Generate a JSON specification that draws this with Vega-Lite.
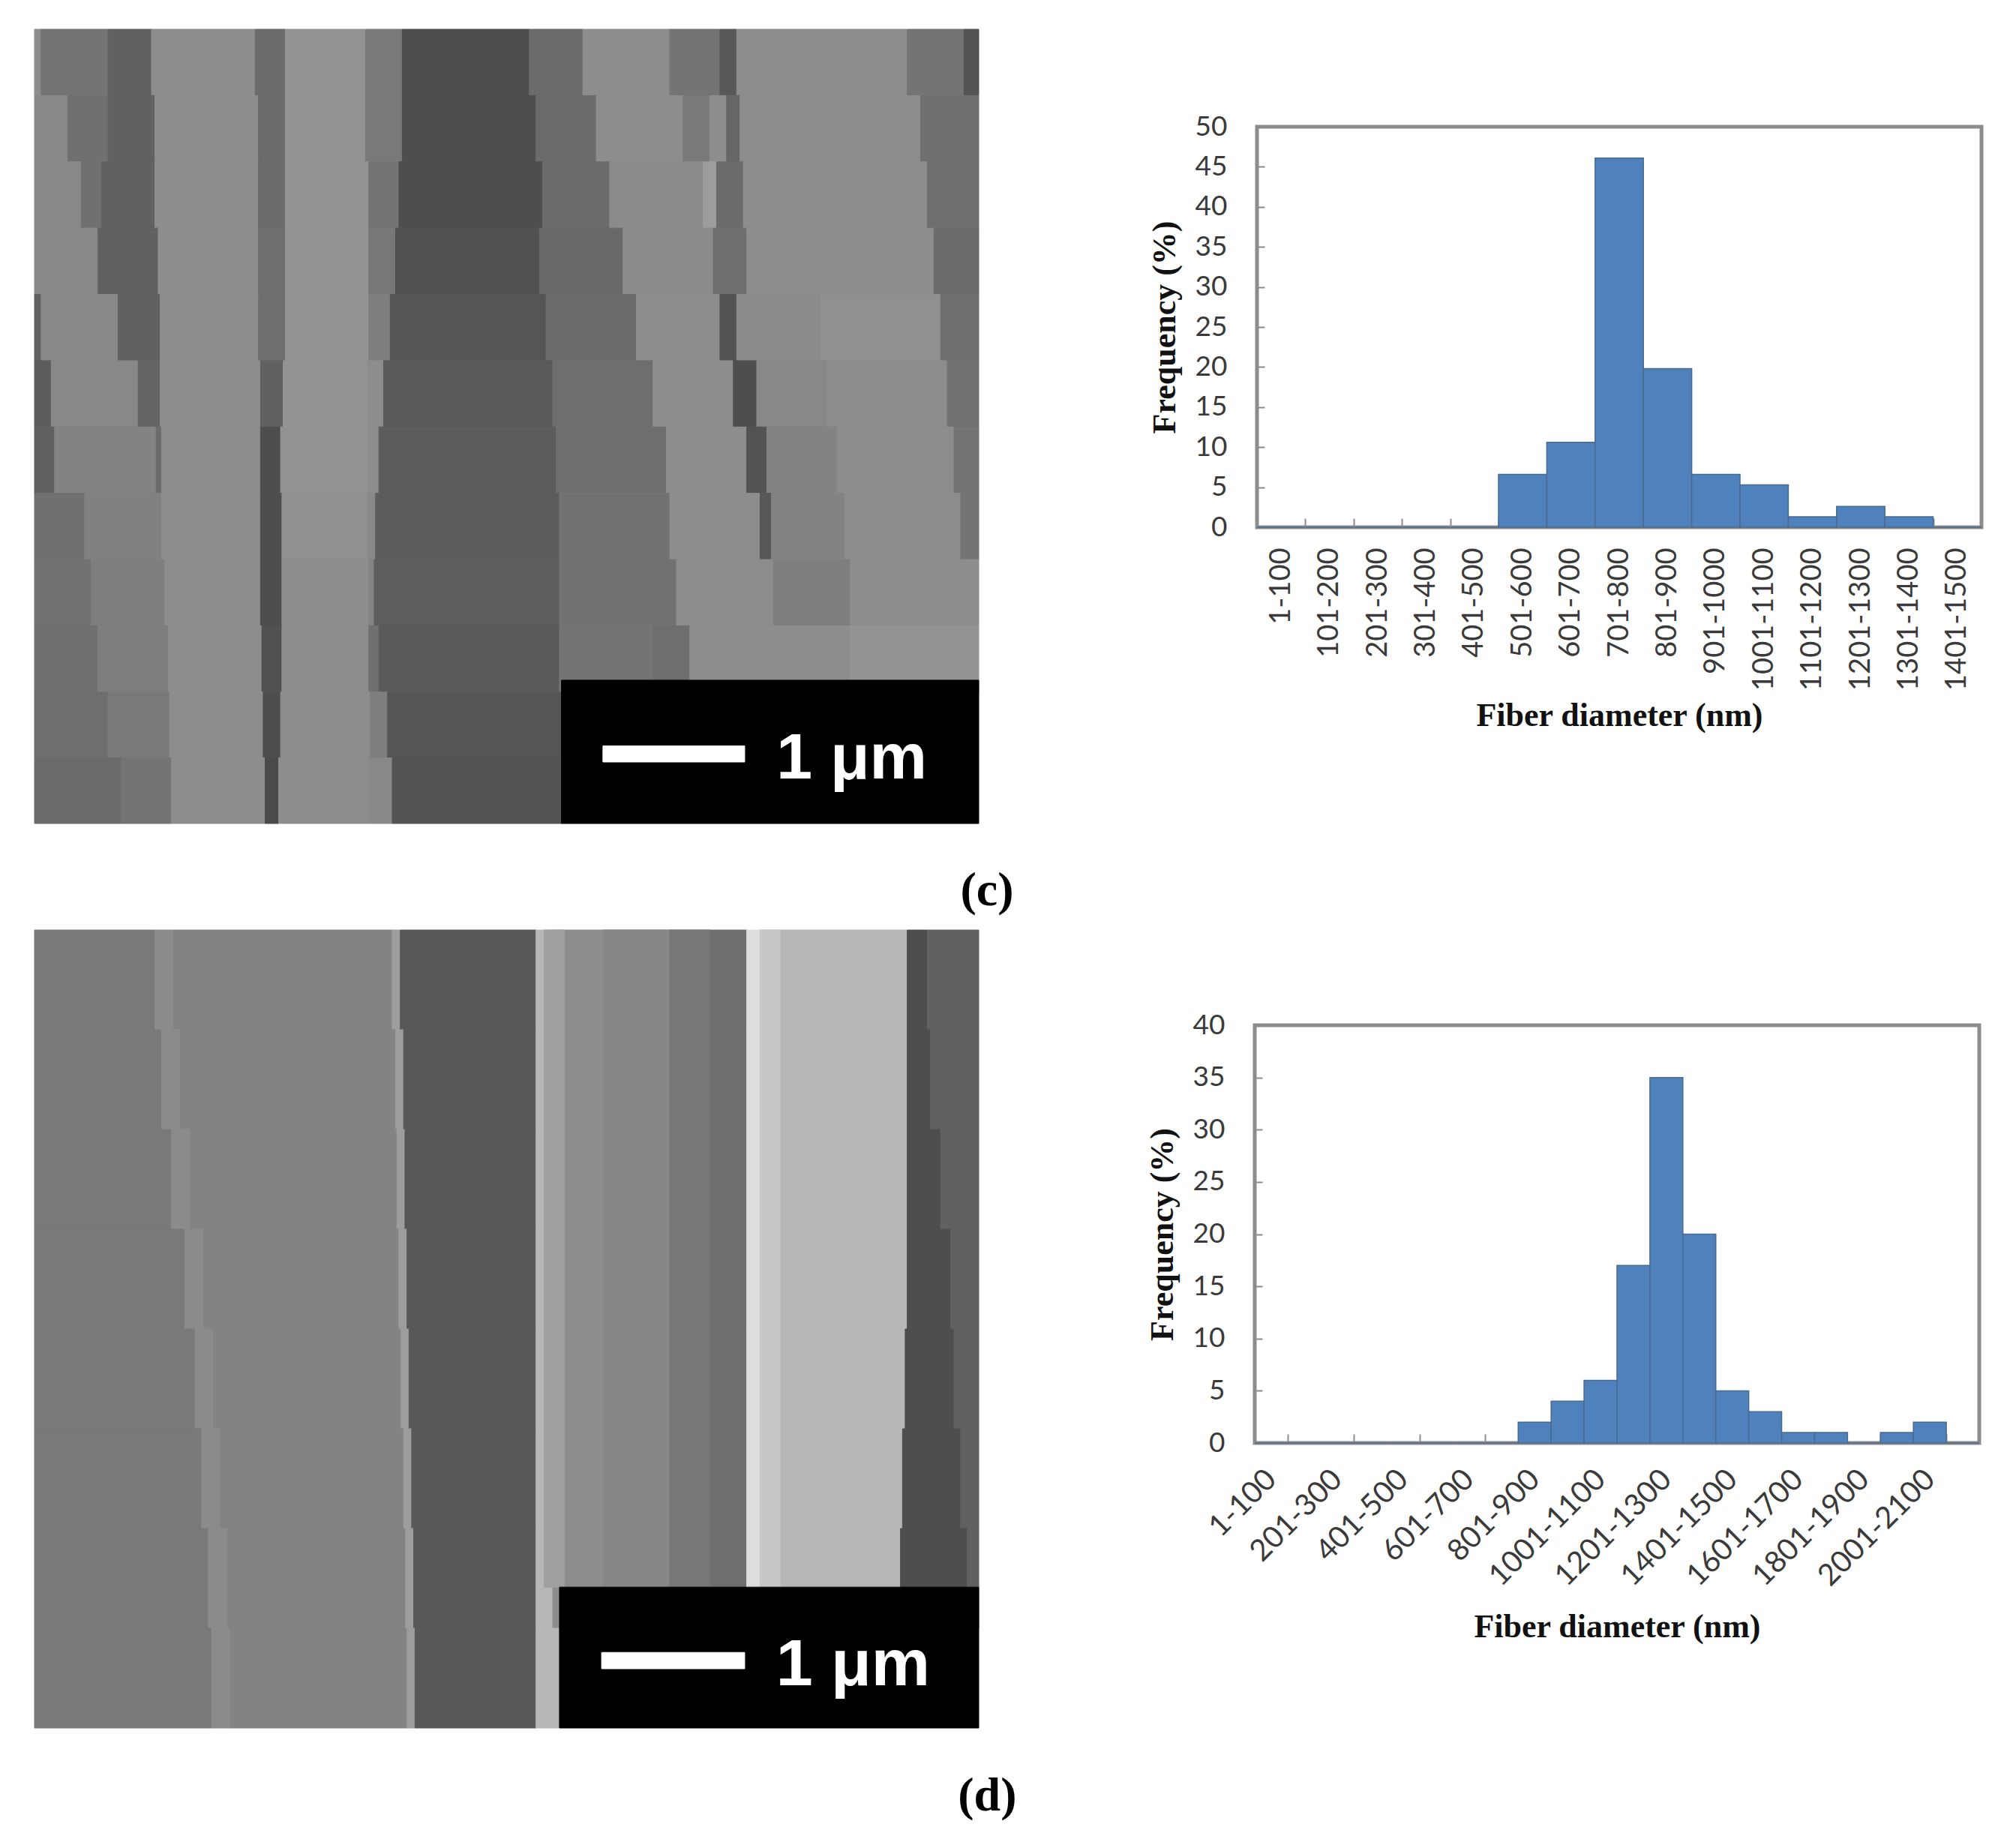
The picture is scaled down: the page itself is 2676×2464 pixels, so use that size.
{
  "$schema": "https://vega.github.io/schema/vega-lite/v6.json",
  "background": "white",
  "padding": {"left": 45, "top": 38, "right": 0, "bottom": 0},
  "spacing": 19,
  "vconcat": [
    {
      "spacing": 176,
      "hconcat": [
        {
          "width": 1259,
          "height": 1059,
          "title": {"text": "(c)", "orient": "bottom", "anchor": "end", "font": "Liberation Serif", "fontSize": 64, "fontWeight": "bold", "color": "#000", "offset": 57, "dx": 46},
          "view": {"stroke": null},
          "layer": [
            {
              "data": {"values": [
                {"x0":50,"x1":60,"y0":48,"y1":159,"grey":150},{"x0":60,"x1":160,"y0":48,"y1":159,"grey":125},{"x0":160,"x1":225,"y0":48,"y1":159,"grey":105},{"x0":225,"x1":380,"y0":48,"y1":159,"grey":150},{"x0":380,"x1":425,"y0":48,"y1":159,"grey":115},{"x0":425,"x1":545,"y0":48,"y1":159,"grey":155},{"x0":545,"x1":600,"y0":48,"y1":159,"grey":130},{"x0":600,"x1":790,"y0":48,"y1":159,"grey":85},{"x0":790,"x1":870,"y0":48,"y1":159,"grey":115},{"x0":870,"x1":1000,"y0":48,"y1":159,"grey":150},{"x0":1000,"x1":1075,"y0":48,"y1":159,"grey":125},{"x0":1075,"x1":1100,"y0":48,"y1":159,"grey":95},{"x0":1100,"x1":1355,"y0":48,"y1":159,"grey":150},{"x0":1355,"x1":1440,"y0":48,"y1":159,"grey":125},{"x0":1440,"x1":1462,"y0":48,"y1":159,"grey":90},
                {"x0":50,"x1":100,"y0":159,"y1":270,"grey":145},{"x0":100,"x1":160,"y0":159,"y1":270,"grey":120},{"x0":160,"x1":230,"y0":159,"y1":270,"grey":105},{"x0":230,"x1":385,"y0":159,"y1":270,"grey":150},{"x0":385,"x1":425,"y0":159,"y1":270,"grey":115},{"x0":425,"x1":545,"y0":159,"y1":270,"grey":155},{"x0":545,"x1":600,"y0":159,"y1":270,"grey":130},{"x0":600,"x1":800,"y0":159,"y1":270,"grey":85},{"x0":800,"x1":890,"y0":159,"y1":270,"grey":115},{"x0":890,"x1":1020,"y0":159,"y1":270,"grey":150},{"x0":1020,"x1":1060,"y0":159,"y1":270,"grey":130},{"x0":1060,"x1":1085,"y0":159,"y1":270,"grey":150},{"x0":1085,"x1":1105,"y0":159,"y1":270,"grey":110},{"x0":1105,"x1":1375,"y0":159,"y1":270,"grey":150},{"x0":1375,"x1":1462,"y0":159,"y1":270,"grey":120},
                {"x0":50,"x1":120,"y0":270,"y1":381,"grey":145},{"x0":120,"x1":150,"y0":270,"y1":381,"grey":120},{"x0":150,"x1":230,"y0":270,"y1":381,"grey":105},{"x0":230,"x1":385,"y0":270,"y1":381,"grey":150},{"x0":385,"x1":425,"y0":270,"y1":381,"grey":115},{"x0":425,"x1":550,"y0":270,"y1":381,"grey":155},{"x0":550,"x1":595,"y0":270,"y1":381,"grey":125},{"x0":595,"x1":810,"y0":270,"y1":381,"grey":85},{"x0":810,"x1":910,"y0":270,"y1":381,"grey":115},{"x0":910,"x1":1050,"y0":270,"y1":381,"grey":148},{"x0":1050,"x1":1070,"y0":270,"y1":381,"grey":165},{"x0":1070,"x1":1110,"y0":270,"y1":381,"grey":115},{"x0":1110,"x1":1385,"y0":270,"y1":381,"grey":150},{"x0":1385,"x1":1462,"y0":270,"y1":381,"grey":118},
                {"x0":50,"x1":145,"y0":381,"y1":492,"grey":145},{"x0":145,"x1":235,"y0":381,"y1":492,"grey":105},{"x0":235,"x1":385,"y0":381,"y1":492,"grey":150},{"x0":385,"x1":425,"y0":381,"y1":492,"grey":118},{"x0":425,"x1":550,"y0":381,"y1":492,"grey":155},{"x0":550,"x1":590,"y0":381,"y1":492,"grey":128},{"x0":590,"x1":805,"y0":381,"y1":492,"grey":88},{"x0":805,"x1":930,"y0":381,"y1":492,"grey":112},{"x0":930,"x1":1065,"y0":381,"y1":492,"grey":148},{"x0":1065,"x1":1115,"y0":381,"y1":492,"grey":118},{"x0":1115,"x1":1395,"y0":381,"y1":492,"grey":150},{"x0":1395,"x1":1462,"y0":381,"y1":492,"grey":115},
                {"x0":50,"x1":60,"y0":492,"y1":603,"grey":105},{"x0":60,"x1":175,"y0":492,"y1":603,"grey":145},{"x0":175,"x1":238,"y0":492,"y1":603,"grey":105},{"x0":238,"x1":385,"y0":492,"y1":603,"grey":150},{"x0":385,"x1":425,"y0":492,"y1":603,"grey":118},{"x0":425,"x1":550,"y0":492,"y1":603,"grey":155},{"x0":550,"x1":582,"y0":492,"y1":603,"grey":135},{"x0":582,"x1":815,"y0":492,"y1":603,"grey":92},{"x0":815,"x1":950,"y0":492,"y1":603,"grey":115},{"x0":950,"x1":1075,"y0":492,"y1":603,"grey":150},{"x0":1075,"x1":1100,"y0":492,"y1":603,"grey":90},{"x0":1100,"x1":1225,"y0":492,"y1":603,"grey":148},{"x0":1225,"x1":1405,"y0":492,"y1":603,"grey":152},{"x0":1405,"x1":1462,"y0":492,"y1":603,"grey":118},
                {"x0":50,"x1":75,"y0":603,"y1":714,"grey":100},{"x0":75,"x1":205,"y0":603,"y1":714,"grey":145},{"x0":205,"x1":238,"y0":603,"y1":714,"grey":108},{"x0":238,"x1":388,"y0":603,"y1":714,"grey":150},{"x0":388,"x1":422,"y0":603,"y1":714,"grey":105},{"x0":422,"x1":548,"y0":603,"y1":714,"grey":155},{"x0":548,"x1":572,"y0":603,"y1":714,"grey":150},{"x0":572,"x1":825,"y0":603,"y1":714,"grey":98},{"x0":825,"x1":975,"y0":603,"y1":714,"grey":118},{"x0":975,"x1":1095,"y0":603,"y1":714,"grey":150},{"x0":1095,"x1":1130,"y0":603,"y1":714,"grey":85},{"x0":1130,"x1":1235,"y0":603,"y1":714,"grey":145},{"x0":1235,"x1":1415,"y0":603,"y1":714,"grey":150},{"x0":1415,"x1":1462,"y0":603,"y1":714,"grey":122},
                {"x0":50,"x1":80,"y0":714,"y1":825,"grey":105},{"x0":80,"x1":232,"y0":714,"y1":825,"grey":140},{"x0":232,"x1":240,"y0":714,"y1":825,"grey":115},{"x0":240,"x1":388,"y0":714,"y1":825,"grey":150},{"x0":388,"x1":418,"y0":714,"y1":825,"grey":85},{"x0":418,"x1":548,"y0":714,"y1":825,"grey":155},{"x0":548,"x1":565,"y0":714,"y1":825,"grey":150},{"x0":565,"x1":830,"y0":714,"y1":825,"grey":100},{"x0":830,"x1":995,"y0":714,"y1":825,"grey":118},{"x0":995,"x1":1115,"y0":714,"y1":825,"grey":150},{"x0":1115,"x1":1145,"y0":714,"y1":825,"grey":90},{"x0":1145,"x1":1250,"y0":714,"y1":825,"grey":140},{"x0":1250,"x1":1425,"y0":714,"y1":825,"grey":150},{"x0":1425,"x1":1462,"y0":714,"y1":825,"grey":125},
                {"x0":50,"x1":125,"y0":825,"y1":936,"grey":120},{"x0":125,"x1":240,"y0":825,"y1":936,"grey":138},{"x0":240,"x1":388,"y0":825,"y1":936,"grey":150},{"x0":388,"x1":420,"y0":825,"y1":936,"grey":85},{"x0":420,"x1":548,"y0":825,"y1":936,"grey":152},{"x0":548,"x1":560,"y0":825,"y1":936,"grey":145},{"x0":560,"x1":835,"y0":825,"y1":936,"grey":100},{"x0":835,"x1":1000,"y0":825,"y1":936,"grey":122},{"x0":1000,"x1":1135,"y0":825,"y1":936,"grey":150},{"x0":1135,"x1":1152,"y0":825,"y1":936,"grey":95},{"x0":1152,"x1":1262,"y0":825,"y1":936,"grey":140},{"x0":1262,"x1":1435,"y0":825,"y1":936,"grey":150},{"x0":1435,"x1":1462,"y0":825,"y1":936,"grey":125},
                {"x0":50,"x1":135,"y0":936,"y1":1047,"grey":122},{"x0":135,"x1":245,"y0":936,"y1":1047,"grey":135},{"x0":245,"x1":388,"y0":936,"y1":1047,"grey":150},{"x0":388,"x1":420,"y0":936,"y1":1047,"grey":85},{"x0":420,"x1":550,"y0":936,"y1":1047,"grey":150},{"x0":550,"x1":558,"y0":936,"y1":1047,"grey":140},{"x0":558,"x1":835,"y0":936,"y1":1047,"grey":102},{"x0":835,"x1":1010,"y0":936,"y1":1047,"grey":122},{"x0":1010,"x1":1155,"y0":936,"y1":1047,"grey":150},{"x0":1155,"x1":1270,"y0":936,"y1":1047,"grey":135},{"x0":1270,"x1":1462,"y0":936,"y1":1047,"grey":150},
                {"x0":50,"x1":145,"y0":1047,"y1":1158,"grey":120},{"x0":145,"x1":250,"y0":1047,"y1":1158,"grey":135},{"x0":250,"x1":390,"y0":1047,"y1":1158,"grey":150},{"x0":390,"x1":420,"y0":1047,"y1":1158,"grey":88},{"x0":420,"x1":550,"y0":1047,"y1":1158,"grey":150},{"x0":550,"x1":565,"y0":1047,"y1":1158,"grey":120},{"x0":565,"x1":835,"y0":1047,"y1":1158,"grey":98},{"x0":835,"x1":975,"y0":1047,"y1":1158,"grey":125},{"x0":975,"x1":1030,"y0":1047,"y1":1158,"grey":118},{"x0":1030,"x1":1270,"y0":1047,"y1":1158,"grey":150},{"x0":1270,"x1":1462,"y0":1047,"y1":1158,"grey":156},
                {"x0":50,"x1":160,"y0":1158,"y1":1268,"grey":118},{"x0":160,"x1":252,"y0":1158,"y1":1268,"grey":130},{"x0":252,"x1":392,"y0":1158,"y1":1268,"grey":150},{"x0":392,"x1":418,"y0":1158,"y1":1268,"grey":85},{"x0":418,"x1":552,"y0":1158,"y1":1268,"grey":150},{"x0":552,"x1":578,"y0":1158,"y1":1268,"grey":135},{"x0":578,"x1":838,"y0":1158,"y1":1268,"grey":92},
                {"x0":50,"x1":180,"y0":1268,"y1":1378,"grey":115},{"x0":180,"x1":255,"y0":1268,"y1":1378,"grey":125},{"x0":255,"x1":395,"y0":1268,"y1":1378,"grey":150},{"x0":395,"x1":415,"y0":1268,"y1":1378,"grey":80},{"x0":415,"x1":550,"y0":1268,"y1":1378,"grey":150},{"x0":550,"x1":585,"y0":1268,"y1":1378,"grey":145},{"x0":585,"x1":838,"y0":1268,"y1":1378,"grey":90},
                {"x0":838,"x1":1462,"y0":1138,"y1":1378,"grey":0},
                {"x0":900,"x1":1112,"y0":1248,"y1":1275,"grey":255}
              ]},
              "mark": {"type": "rect", "strokeWidth": 1},
              "encoding": {
                "x": {"field": "x0", "type": "quantitative", "axis": null, "scale": {"domain": [50, 1462], "nice": false, "zero": false}},
                "x2": {"field": "x1"},
                "y": {"field": "y0", "type": "quantitative", "axis": null, "scale": {"domain": [48, 1378], "nice": false, "zero": false, "reverse": true}},
                "y2": {"field": "y1"},
                "color": {"field": "grey", "type": "quantitative", "legend": null, "scale": {"domain": [0, 255], "range": ["#000000", "#ffffff"]}},
                "stroke": {"field": "grey", "type": "quantitative", "legend": null, "scale": {"domain": [0, 255], "range": ["#000000", "#ffffff"]}}
              }
            },
            {
              "data": {"values": [{"px": 1272, "py": 1270, "label": "1 μm"}]},
              "mark": {"type": "text", "font": "Liberation Sans", "fontWeight": "bold", "fontSize": 86, "color": "#ffffff"},
              "encoding": {
                "x": {"field": "px", "type": "quantitative"},
                "y": {"field": "py", "type": "quantitative"},
                "text": {"field": "label"}
              }
            }
          ]
        },
        {
          "spacing": 0,
          "vconcat": [
            {
              "width": 1,
              "height": 108,
              "view": {"stroke": null},
              "data": {"values": []},
              "mark": "point"
            },
            {
              "width": 966,
              "height": 534,
              "view": {"stroke": "#8c8c8c", "strokeWidth": 5},
              "data": {"values": [
                {"range": "1-100", "freq": 0},
                {"range": "101-200", "freq": 0},
                {"range": "201-300", "freq": 0},
                {"range": "301-400", "freq": 0},
                {"range": "401-500", "freq": 0},
                {"range": "501-600", "freq": 6.6},
                {"range": "601-700", "freq": 10.6},
                {"range": "701-800", "freq": 46.1},
                {"range": "801-900", "freq": 19.8},
                {"range": "901-1000", "freq": 6.6},
                {"range": "1001-1100", "freq": 5.3},
                {"range": "1101-1200", "freq": 1.3},
                {"range": "1201-1300", "freq": 2.6},
                {"range": "1301-1400", "freq": 1.3},
                {"range": "1401-1500", "freq": 0}
              ]},
              "mark": {"type": "bar", "color": "#4f81bd", "stroke": "#4a6a8f", "strokeWidth": 1.5},
              "encoding": {
                "x": {
                  "field": "range",
                  "type": "nominal",
                  "sort": null,
                  "scale": {"paddingInner": 0, "paddingOuter": 0},
                  "axis": {"title": "Fiber diameter (nm)", "titleFont": "Liberation Serif", "titleFontWeight": "bold", "titleFontSize": 44, "titleColor": "#111111", "titlePadding": 29, "labelFont": "Lato", "labelFontSize": 38, "labelColor": "#3a3a3a", "labelAngle": -90, "labelAlign": "right", "labelBaseline": "middle", "labelPadding": 39, "labelLimit": 400, "labelOverlap": false, "domain": false, "tickBand": "extent", "tickSize": -12, "tickColor": "#8c8c8c", "tickWidth": 2}
                },
                "y": {
                  "field": "freq",
                  "type": "quantitative",
                  "scale": {"domain": [0, 50], "nice": false},
                  "axis": {"title": "Frequency (%)", "titleFont": "Liberation Serif", "titleFontWeight": "bold", "titleFontSize": 44, "titleColor": "#111111", "titlePadding": 18, "labelFont": "Lato", "labelFontSize": 37, "labelColor": "#3a3a3a", "labelPadding": 50, "values": [0, 5, 10, 15, 20, 25, 30, 35, 40, 45, 50], "grid": false, "domain": false, "tickSize": -10, "tickColor": "#8c8c8c", "tickWidth": 2}
                }
              }
            }
          ]
        }
      ]
    },
    {
      "spacing": 169,
      "hconcat": [
        {
          "width": 1259,
          "height": 1064,
          "title": {"text": "(d)", "orient": "bottom", "anchor": "end", "font": "Liberation Serif", "fontSize": 64, "fontWeight": "bold", "color": "#000", "offset": 58, "dx": 50},
          "view": {"stroke": null},
          "layer": [
            {
              "data": {"values": [
                {"x0":50,"x1":230,"y0":48,"y1":213,"grey":130},{"x0":230,"x1":258,"y0":48,"y1":213,"grey":148},{"x0":258,"x1":585,"y0":48,"y1":213,"grey":140},{"x0":585,"x1":597,"y0":48,"y1":213,"grey":165},{"x0":597,"x1":800,"y0":48,"y1":213,"grey":95},{"x0":800,"x1":825,"y0":48,"y1":213,"grey":190},{"x0":825,"x1":1000,"y0":48,"y1":213,"grey":150},{"x0":1000,"x1":1115,"y0":48,"y1":213,"grey":118},{"x0":1115,"x1":1135,"y0":48,"y1":213,"grey":225},{"x0":1135,"x1":1355,"y0":48,"y1":213,"grey":190},{"x0":1355,"x1":1385,"y0":48,"y1":213,"grey":85},{"x0":1385,"x1":1462,"y0":48,"y1":213,"grey":105},
                {"x0":50,"x1":240,"y0":213,"y1":378,"grey":130},{"x0":240,"x1":268,"y0":213,"y1":378,"grey":148},{"x0":268,"x1":590,"y0":213,"y1":378,"grey":140},{"x0":590,"x1":602,"y0":213,"y1":378,"grey":165},{"x0":602,"x1":800,"y0":213,"y1":378,"grey":95},{"x0":800,"x1":825,"y0":213,"y1":378,"grey":190},{"x0":825,"x1":1000,"y0":213,"y1":378,"grey":150},{"x0":1000,"x1":1115,"y0":213,"y1":378,"grey":118},{"x0":1115,"x1":1135,"y0":213,"y1":378,"grey":225},{"x0":1135,"x1":1355,"y0":213,"y1":378,"grey":190},{"x0":1355,"x1":1390,"y0":213,"y1":378,"grey":85},{"x0":1390,"x1":1462,"y0":213,"y1":378,"grey":105},
                {"x0":50,"x1":255,"y0":378,"y1":543,"grey":130},{"x0":255,"x1":283,"y0":378,"y1":543,"grey":148},{"x0":283,"x1":592,"y0":378,"y1":543,"grey":140},{"x0":592,"x1":604,"y0":378,"y1":543,"grey":165},{"x0":604,"x1":800,"y0":378,"y1":543,"grey":95},{"x0":800,"x1":825,"y0":378,"y1":543,"grey":190},{"x0":825,"x1":1000,"y0":378,"y1":543,"grey":150},{"x0":1000,"x1":1115,"y0":378,"y1":543,"grey":118},{"x0":1115,"x1":1135,"y0":378,"y1":543,"grey":225},{"x0":1135,"x1":1355,"y0":378,"y1":543,"grey":190},{"x0":1355,"x1":1405,"y0":378,"y1":543,"grey":85},{"x0":1405,"x1":1462,"y0":378,"y1":543,"grey":105},
                {"x0":50,"x1":275,"y0":543,"y1":708,"grey":130},{"x0":275,"x1":303,"y0":543,"y1":708,"grey":148},{"x0":303,"x1":595,"y0":543,"y1":708,"grey":140},{"x0":595,"x1":607,"y0":543,"y1":708,"grey":165},{"x0":607,"x1":800,"y0":543,"y1":708,"grey":95},{"x0":800,"x1":825,"y0":543,"y1":708,"grey":190},{"x0":825,"x1":1000,"y0":543,"y1":708,"grey":150},{"x0":1000,"x1":1115,"y0":543,"y1":708,"grey":118},{"x0":1115,"x1":1135,"y0":543,"y1":708,"grey":225},{"x0":1135,"x1":1355,"y0":543,"y1":708,"grey":190},{"x0":1355,"x1":1420,"y0":543,"y1":708,"grey":85},{"x0":1420,"x1":1462,"y0":543,"y1":708,"grey":105},
                {"x0":50,"x1":290,"y0":708,"y1":873,"grey":130},{"x0":290,"x1":318,"y0":708,"y1":873,"grey":148},{"x0":318,"x1":598,"y0":708,"y1":873,"grey":140},{"x0":598,"x1":610,"y0":708,"y1":873,"grey":165},{"x0":610,"x1":800,"y0":708,"y1":873,"grey":95},{"x0":800,"x1":825,"y0":708,"y1":873,"grey":190},{"x0":825,"x1":1000,"y0":708,"y1":873,"grey":150},{"x0":1000,"x1":1115,"y0":708,"y1":873,"grey":118},{"x0":1115,"x1":1135,"y0":708,"y1":873,"grey":225},{"x0":1135,"x1":1352,"y0":708,"y1":873,"grey":190},{"x0":1352,"x1":1425,"y0":708,"y1":873,"grey":85},{"x0":1425,"x1":1462,"y0":708,"y1":873,"grey":105},
                {"x0":50,"x1":300,"y0":873,"y1":1038,"grey":130},{"x0":300,"x1":328,"y0":873,"y1":1038,"grey":148},{"x0":328,"x1":602,"y0":873,"y1":1038,"grey":140},{"x0":602,"x1":614,"y0":873,"y1":1038,"grey":165},{"x0":614,"x1":800,"y0":873,"y1":1038,"grey":95},{"x0":800,"x1":825,"y0":873,"y1":1038,"grey":190},{"x0":825,"x1":1000,"y0":873,"y1":1038,"grey":150},{"x0":1000,"x1":1115,"y0":873,"y1":1038,"grey":118},{"x0":1115,"x1":1135,"y0":873,"y1":1038,"grey":225},{"x0":1135,"x1":1348,"y0":873,"y1":1038,"grey":190},{"x0":1348,"x1":1435,"y0":873,"y1":1038,"grey":85},{"x0":1435,"x1":1462,"y0":873,"y1":1038,"grey":105},
                {"x0":50,"x1":310,"y0":1038,"y1":1203,"grey":130},{"x0":310,"x1":338,"y0":1038,"y1":1203,"grey":148},{"x0":338,"x1":605,"y0":1038,"y1":1203,"grey":140},{"x0":605,"x1":617,"y0":1038,"y1":1203,"grey":165},{"x0":617,"x1":800,"y0":1038,"y1":1203,"grey":95},{"x0":800,"x1":825,"y0":1038,"y1":1203,"grey":190},{"x0":825,"x1":1000,"y0":1038,"y1":1203,"grey":150},{"x0":1000,"x1":1115,"y0":1038,"y1":1203,"grey":118},{"x0":1115,"x1":1135,"y0":1038,"y1":1203,"grey":225},{"x0":1135,"x1":1345,"y0":1038,"y1":1203,"grey":190},{"x0":1345,"x1":1445,"y0":1038,"y1":1203,"grey":85},{"x0":1445,"x1":1462,"y0":1038,"y1":1203,"grey":105},
                {"x0":50,"x1":315,"y0":1203,"y1":1368,"grey":130},{"x0":315,"x1":343,"y0":1203,"y1":1368,"grey":148},{"x0":343,"x1":607,"y0":1203,"y1":1368,"grey":140},{"x0":607,"x1":619,"y0":1203,"y1":1368,"grey":165},{"x0":619,"x1":800,"y0":1203,"y1":1368,"grey":95},{"x0":800,"x1":835,"y0":1203,"y1":1368,"grey":190},
                {"x0":812,"x1":842,"y0":48,"y1":1135,"grey":168},{"x0":900,"x1":1000,"y0":48,"y1":1135,"grey":144},{"x0":1000,"x1":1060,"y0":48,"y1":1135,"grey":128},{"x0":1135,"x1":1165,"y0":48,"y1":1135,"grey":205},
                {"x0":835,"x1":1462,"y0":1135,"y1":1368,"grey":0},
                {"x0":898,"x1":1112,"y0":1243,"y1":1270,"grey":255}
              ]},
              "mark": {"type": "rect", "strokeWidth": 1},
              "encoding": {
                "x": {"field": "x0", "type": "quantitative", "axis": null, "scale": {"domain": [50, 1462], "nice": false, "zero": false}},
                "x2": {"field": "x1"},
                "y": {"field": "y0", "type": "quantitative", "axis": null, "scale": {"domain": [48, 1368], "nice": false, "zero": false, "reverse": true}},
                "y2": {"field": "y1"},
                "color": {"field": "grey", "type": "quantitative", "legend": null, "scale": {"domain": [0, 255], "range": ["#000000", "#ffffff"]}},
                "stroke": {"field": "grey", "type": "quantitative", "legend": null, "scale": {"domain": [0, 255], "range": ["#000000", "#ffffff"]}}
              }
            },
            {
              "data": {"values": [{"px": 1274, "py": 1265, "label": "1 μm"}]},
              "mark": {"type": "text", "font": "Liberation Sans", "fontWeight": "bold", "fontSize": 88, "color": "#ffffff"},
              "encoding": {
                "x": {"field": "px", "type": "quantitative"},
                "y": {"field": "py", "type": "quantitative"},
                "text": {"field": "label"}
              }
            }
          ]
        },
        {
          "spacing": 0,
          "vconcat": [
            {
              "width": 1,
              "height": 105,
              "view": {"stroke": null},
              "data": {"values": []},
              "mark": "point"
            },
            {
              "width": 966,
              "height": 557,
              "view": {"stroke": "#8c8c8c", "strokeWidth": 5},
              "data": {"values": [
                {"range": "1-100", "freq": 0},
                {"range": "101-200", "freq": 0},
                {"range": "201-300", "freq": 0},
                {"range": "301-400", "freq": 0},
                {"range": "401-500", "freq": 0},
                {"range": "501-600", "freq": 0},
                {"range": "601-700", "freq": 0},
                {"range": "701-800", "freq": 0},
                {"range": "801-900", "freq": 2},
                {"range": "901-1000", "freq": 4},
                {"range": "1001-1100", "freq": 6},
                {"range": "1101-1200", "freq": 17},
                {"range": "1201-1300", "freq": 35},
                {"range": "1301-1400", "freq": 20},
                {"range": "1401-1500", "freq": 5},
                {"range": "1501-1600", "freq": 3},
                {"range": "1601-1700", "freq": 1},
                {"range": "1701-1800", "freq": 1},
                {"range": "1801-1900", "freq": 0},
                {"range": "1901-2000", "freq": 1},
                {"range": "2001-2100", "freq": 2},
                {"range": "2101-2200", "freq": 0}
              ]},
              "mark": {"type": "bar", "color": "#4f81bd", "stroke": "#4a6a8f", "strokeWidth": 1.5},
              "encoding": {
                "x": {
                  "field": "range",
                  "type": "nominal",
                  "sort": null,
                  "scale": {"paddingInner": 0, "paddingOuter": 0},
                  "axis": {"title": "Fiber diameter (nm)", "titleFont": "Liberation Serif", "titleFontWeight": "bold", "titleFontSize": 44, "titleColor": "#111111", "titlePadding": 26, "labelFont": "Lato", "labelFontSize": 40, "labelColor": "#3a3a3a", "labelAngle": -45, "labelAlign": "right", "labelBaseline": "middle", "labelPadding": 54, "labelLimit": 400, "labelOverlap": false, "domain": false, "tickBand": "extent", "tickSize": -12, "tickColor": "#8c8c8c", "tickWidth": 2, "values": ["1-100", "201-300", "401-500", "601-700", "801-900", "1001-1100", "1201-1300", "1401-1500", "1601-1700", "1801-1900", "2001-2100"]}
                },
                "y": {
                  "field": "freq",
                  "type": "quantitative",
                  "scale": {"domain": [0, 40], "nice": false},
                  "axis": {"title": "Frequency (%)", "titleFont": "Liberation Serif", "titleFontWeight": "bold", "titleFontSize": 44, "titleColor": "#111111", "titlePadding": 18, "labelFont": "Lato", "labelFontSize": 37, "labelColor": "#3a3a3a", "labelPadding": 50, "values": [0, 5, 10, 15, 20, 25, 30, 35, 40], "grid": false, "domain": false, "tickSize": -10, "tickColor": "#8c8c8c", "tickWidth": 2}
                }
              }
            }
          ]
        }
      ]
    }
  ]
}
